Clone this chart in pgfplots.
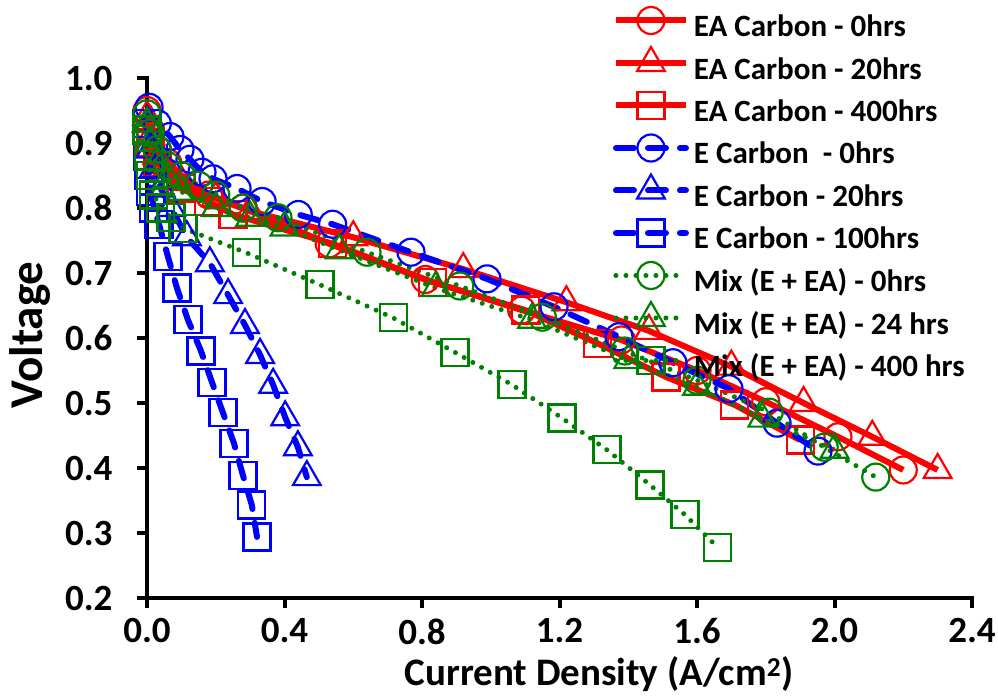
\documentclass[border=0pt]{standalone}
\usepackage{fontspec}
\setmainfont{Carlito}
\usepackage{pgfplots}
\pgfplotsset{compat=1.18}
\definecolor{cRed}{HTML}{FF0000}
\definecolor{cBlue}{HTML}{0000FF}
\definecolor{cGreen}{HTML}{008000}
\begin{document}
\begin{tikzpicture}
\useasboundingbox (0,0) rectangle (998pt,-697pt);
\begin{axis}[
  at={(147pt,-598pt)}, anchor=south west,
  scale only axis, width=825pt, height=520pt,
  xmin=0, xmax=2.4, ymin=0.2, ymax=1.0,
  clip=false,
  axis x line*=bottom, axis y line*=left,
  axis line style={line width=4.5pt, line cap=rect},
  xtick={0,0.4,...,2.4}, ytick={0.2,0.3,...,1.0},
  tick align=outside, major tick length=10pt,
  tick style={line width=4pt, black},
  /pgf/number format/assume math mode=true,
  xticklabel={\pgfmathprintnumber[fixed,fixed zerofill,precision=1]{\tick}},
  yticklabel={\pgfmathprintnumber[fixed,fixed zerofill,precision=1]{\tick}},
  ticklabel style={font=\fontsize{37}{44}\selectfont\bfseries},
  yticklabel style={xshift=-21pt},
  xticklabel style={yshift=-7pt},
  xlabel={Current Density (A/cm\textsuperscript{2})},
  ylabel={Voltage},
  xlabel style={at={(axis description cs:0.548,-0.168)}, anchor=base, font=\fontsize{39}{46}\selectfont\bfseries},
  ylabel style={at={(axis description cs:-0.1418,0.5058)}, anchor=center, font=\fontsize{47}{56}\selectfont\bfseries},
  legend style={at={(axis description cs:0.5648,1.1183)}, anchor=north west,
    draw=none, fill=none, inner sep=0pt, outer sep=0pt,
    row sep=16.5pt, column sep=5pt,
    font=\fontsize{31}{36}\selectfont\bfseries,
    nodes={inner sep=0pt, text height=20pt, text depth=6pt}},
  legend cell align=left,
  legend image code/.code={
    \draw[#1] (0pt,9pt) -- (70pt,9pt);
    \draw[#1, overlay] plot coordinates {(35pt,9pt)};
  },
  every axis plot/.append style={mark options={solid, line width=2.2pt, fill=none}},
]
% EA Carbon - 0hrs
\addplot[cRed, line width=6pt, mark=o, mark size=13.5pt] coordinates {
(0,0.95)(0.01,0.92)(0.03,0.89)(0.06,0.87)(0.1,0.85)(0.18,0.82)(0.28,0.80)(0.53,0.745)(0.81,0.69)(1.09,0.643)(1.38,0.597)(1.60,0.55)(1.80,0.502)(2.01,0.448)(2.20,0.397)};
\addlegendentry{EA Carbon - 0hrs}
% EA Carbon - 20hrs
\addplot[cRed, line width=6pt, mark=triangle, mark size=16pt] coordinates {
(0,0.94)(0.01,0.91)(0.03,0.88)(0.06,0.86)(0.1,0.84)(0.2,0.815)(0.3,0.795)(0.6,0.755)(0.92,0.706)(1.22,0.655)(1.46,0.611)(1.70,0.556)(1.91,0.50)(2.11,0.448)(2.30,0.397)};
\addlegendentry{EA Carbon - 20hrs}
% EA Carbon - 400hrs
\addplot[cRed, line width=6pt, mark=square, mark size=13.5pt] coordinates {
(0,0.93)(0.01,0.90)(0.03,0.87)(0.06,0.85)(0.1,0.83)(0.18,0.81)(0.25,0.79)(0.54,0.745)(0.83,0.686)(1.10,0.643)(1.31,0.592)(1.51,0.54)(1.71,0.497)(1.90,0.443)};
\addlegendentry{EA Carbon - 400hrs}
% E Carbon - 0hrs
\addplot[cBlue, line width=6pt, line cap=round, dash pattern=on 18pt off 14pt, mark=o, mark size=13.5pt] coordinates {
(0.006,0.955)(0.03,0.93)(0.067,0.91)(0.096,0.89)(0.125,0.875)(0.16,0.855)(0.192,0.845)(0.262,0.83)(0.335,0.81)(0.44,0.79)(0.54,0.775)(0.768,0.732)(0.989,0.691)(1.184,0.648)(1.373,0.602)(1.530,0.562)(1.693,0.522)(1.833,0.469)(1.952,0.426)};
\addlegendentry{E Carbon\ \ - 0hrs}
% E Carbon - 20hrs
\addplot[cBlue, line width=6pt, line cap=round, dash pattern=on 18pt off 14pt, mark=triangle, mark size=16pt] coordinates {
(0,0.93)(0.01,0.89)(0.02,0.86)(0.04,0.83)(0.07,0.80)(0.116,0.755)(0.183,0.715)(0.236,0.666)(0.285,0.620)(0.329,0.574)(0.367,0.528)(0.402,0.478)(0.439,0.432)(0.465,0.386)};
\addlegendentry{E Carbon - 20hrs}
% E Carbon - 100hrs
\addplot[cBlue, line width=6pt, line cap=round, dash pattern=on 18pt off 14pt, mark=square, mark size=13.5pt] coordinates {
(0,0.93)(0.003,0.88)(0.006,0.85)(0.01,0.825)(0.02,0.80)(0.035,0.775)(0.061,0.725)(0.087,0.677)(0.119,0.628)(0.157,0.580)(0.189,0.532)(0.221,0.485)(0.253,0.438)(0.279,0.389)(0.305,0.343)(0.320,0.294)};
\addlegendentry{E Carbon - 100hrs}
% Mix (E + EA) - 0hrs
\addplot[cGreen, line width=5pt, line cap=round, dash pattern=on 0pt off 10pt, mark=o, mark size=13.5pt] coordinates {
(0,0.945)(0.009,0.915)(0.03,0.89)(0.06,0.865)(0.1,0.85)(0.15,0.835)(0.2,0.82)(0.279,0.80)(0.381,0.785)(0.64,0.732)(0.91,0.68)(1.15,0.632)(1.39,0.58)(1.60,0.535)(1.81,0.486)(1.97,0.432)(2.12,0.386)};
\addlegendentry{Mix (E + EA) - 0hrs}
% Mix (E + EA) - 24 hrs
\addplot[cGreen, line width=5pt, line cap=round, dash pattern=on 0pt off 10pt, mark=triangle, mark size=16pt] coordinates {
(0,0.93)(0.01,0.90)(0.03,0.87)(0.06,0.845)(0.1,0.825)(0.2,0.80)(0.3,0.785)(0.40,0.77)(0.56,0.735)(0.84,0.677)(1.12,0.628)(1.40,0.566)(1.60,0.525)(1.79,0.476)(2.0,0.428)};
\addlegendentry{Mix (E + EA) - 24 hrs}
% Mix (E + EA) - 400 hrs
\addplot[cGreen, line width=5pt, line cap=round, dash pattern=on 0pt off 10pt, mark=square, mark size=13.5pt] coordinates {
(0,0.92)(0.005,0.88)(0.01,0.85)(0.02,0.82)(0.04,0.80)(0.07,0.785)(0.105,0.769)(0.29,0.731)(0.503,0.682)(0.716,0.631)(0.896,0.578)(1.062,0.528)(1.207,0.477)(1.338,0.428)(1.463,0.374)(1.565,0.328)(1.66,0.278)};
\addlegendentry{Mix (E + EA) - 400 hrs}
\end{axis}
\end{tikzpicture}
\end{document}
